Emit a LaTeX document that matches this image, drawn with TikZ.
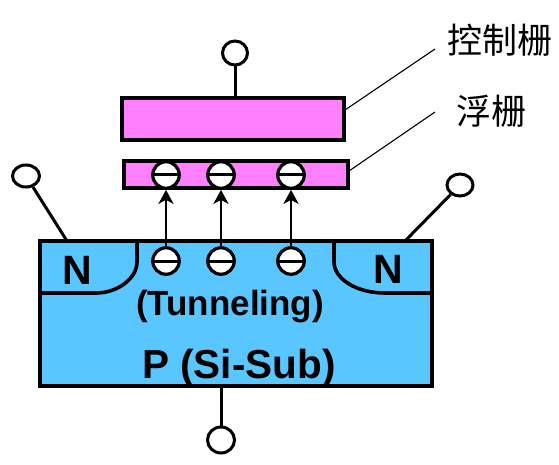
\documentclass[tikz,border=0pt]{standalone}
\usepackage{fontspec}
\setmainfont{Liberation Sans}
\newfontfamily\cjk{Noto Sans CJK SC}
\usetikzlibrary{arrows.meta,shapes.geometric}
\definecolor{subblue}{RGB}{90,198,255}
\definecolor{gatepink}{RGB}{255,128,255}
\tikzset{
  x=1pt,y=-1pt,
  outline/.style={draw=black,line width=3.8pt},
  gatebox/.style={outline,fill=gatepink},
  term/.style={draw=black,line width=3pt,fill=white,ellipse,inner sep=0pt},
  wire/.style={draw=black,line width=3pt},
  leader/.style={draw=black,line width=1.1pt},
  electron/.style={circle,draw=black,line width=3.2pt,fill=white,minimum size=26.5pt,inner sep=0pt,
    path picture={\draw[black,line width=3pt] (path picture bounding box.west) -- (path picture bounding box.east);}},
  tunnel/.style={draw=black,line width=2.8pt,-{Stealth[length=14pt,width=15pt,inset=4pt]}},
  bold label/.style={font=\bfseries\fontsize{#1}{#1}\selectfont,text=black,inner sep=0pt},
  cjk label/.style={font=\cjk\fontsize{35}{35}\selectfont,text=black,inner sep=0pt}
}
\begin{document}
\begin{tikzpicture}
\useasboundingbox (0,0) rectangle (559,465);
% substrate
\node[outline,fill=subblue,minimum width=392pt,minimum height=145pt,inner sep=0pt,anchor=north west] (sub) at (38,239) {};
% junctions
\coordinate (la) at (40,293); \coordinate (lb) at (96,293); \coordinate (lc) at (137,262); \coordinate (ld) at (137,241);
\draw[line width=3.6pt] (la) -- (lb) .. controls (118,293) and (137,278) .. (lc) -- (ld);
\coordinate (ra) at (432,293); \coordinate (rb) at (385,293); \coordinate (rc) at (334,262); \coordinate (rd) at (334,241);
\draw[line width=3.6pt] (ra) -- (rb) .. controls (355,293) and (334,278) .. (rc) -- (rd);
% gates
\node[gatebox,minimum width=222pt,minimum height=42pt,inner sep=0pt,anchor=north west] (cg) at (120,96) {};
\node[gatebox,minimum width=224pt,minimum height=27pt,inner sep=0pt,anchor=north west] (fg) at (122,159) {};
% electrons
\foreach \n/\x in {a/166,b/221,c/291}{
  \node[electron] (up\n) at (\x,175) {};
  \node[electron] (lo\n) at (\x,261) {};
  \draw[tunnel] (lo\n) -- (up\n);
}
% terminals
\node[term,minimum width=25pt,minimum height=24pt] (tg) at (235,53) {};
\node[term,minimum width=27pt,minimum height=22pt] (ts) at (26,176) {};
\node[term,minimum width=26pt,minimum height=22pt] (td) at (460,185) {};
\node[term,minimum width=27pt,minimum height=26pt] (tb) at (221,440) {};
\coordinate (cgt) at (235,98);
\coordinate (sj) at (67,241);
\coordinate (dj) at (405,241);
\coordinate (bj) at (221,386);
\draw[wire] (tg) -- (cgt);
\draw[wire] (ts) -- (sj);
\draw[wire] (td) -- (dj);
\draw[wire] (tb) -- (bj);
% texts
\node[bold label=41] (nl) at (77,270) {N};
\node[bold label=41] (nr) at (388,269) {N};
\node[bold label=35] (tun) at (230,307) {(Tunneling)};
\node[bold label=40.5] (psub) at (239,368) {P (Si-Sub)};
\node[cjk label] (lcg) at (499.5,40) {控制栅};
\node[cjk label] (lfg) at (491.5,111) {浮栅};
% leaders
\coordinate (l1a) at (345,110); \coordinate (l1b) at (435,49);
\coordinate (l2a) at (349,171); \coordinate (l2b) at (435,112);
\draw[leader] (l1a) -- (l1b);
\draw[leader] (l2a) -- (l2b);
\end{tikzpicture}
\end{document}
